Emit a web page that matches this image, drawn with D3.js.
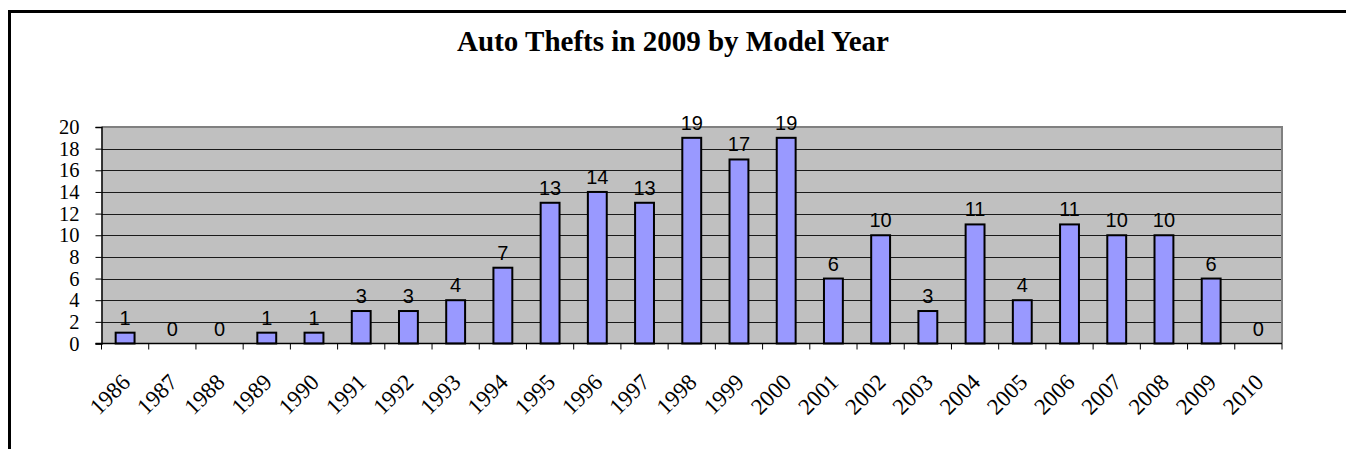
<!DOCTYPE html>
<html>
<head>
<meta charset="utf-8">
<script src="https://cdn.jsdelivr.net/npm/d3@7"></script>
<style>
  html, body { margin: 0; padding: 0; background: #fff; }
  svg { display: block; }
</style>
</head>
<body>
<svg id="chart" width="1346" height="449"></svg>
<script>
// Model years and the number of thefts recorded for each
const modelYears = ["1986","1987","1988","1989","1990","1991","1992","1993","1994","1995",
  "1996","1997","1998","1999","2000","2001","2002","2003","2004","2005",
  "2006","2007","2008","2009","2010"];
const thefts = [1,0,0,1,1,3,3,4,7,13,14,13,19,17,19,6,10,3,11,4,11,10,10,6,0];
const yTicks = [0,2,4,6,8,10,12,14,16,18,20];
const chartTitle = "Auto Thefts in 2009 by Model Year";

const svg = d3.select("#chart");
const W = 1346, H = 449;

// Outer chart frame (runs off the right and bottom edges)
svg.append("rect")
  .attr("x", 9.5).attr("y", 11.5)
  .attr("width", W + 20).attr("height", H + 20)
  .attr("fill", "#fff").attr("stroke", "#000").attr("stroke-width", 3);

const plot = { left: 101.5, right: 1282, top: 127, bottom: 343.5 };

const x = d3.scaleBand().domain(modelYears).range([plot.left, plot.right]).padding(0);
const y = d3.scaleLinear().domain([0, 20]).range([plot.bottom, plot.top]);

// Title
svg.append("text")
  .attr("x", 673).attr("y", 51)
  .attr("text-anchor", "middle")
  .attr("font-family", "'Liberation Serif', 'Times New Roman', serif")
  .attr("font-weight", "bold").attr("font-size", 29)
  .text(chartTitle);

// Plot background
svg.append("rect")
  .attr("x", plot.left).attr("y", plot.top)
  .attr("width", plot.right - plot.left).attr("height", plot.bottom - plot.top)
  .attr("fill", "#c0c0c0");

// Horizontal gridlines
svg.append("g").selectAll("line")
  .data(yTicks.filter(d => d > 0 && d < 20))
  .join("line")
  .attr("x1", plot.left).attr("x2", plot.right)
  .attr("y1", d => Math.round(y(d)) + 0.5).attr("y2", d => Math.round(y(d)) + 0.5)
  .attr("stroke", "#1a1a1a").attr("stroke-width", 1);

// Plot area top and right border
svg.append("path")
  .attr("d", `M${plot.left},${plot.top} H${plot.right} V${plot.bottom}`)
  .attr("fill", "none").attr("stroke", "#808080").attr("stroke-width", 2);

// Bars
const barW = x.bandwidth() * 0.4;
svg.append("g").selectAll("rect")
  .data(modelYears.map((yr, i) => ({ yr, v: thefts[i] })).filter(d => d.v > 0))
  .join("rect")
  .attr("x", d => x(d.yr) + (x.bandwidth() - barW) / 2)
  .attr("y", d => y(d.v))
  .attr("width", barW)
  .attr("height", d => y(0) - y(d.v))
  .attr("fill", "#9999ff").attr("stroke", "#000").attr("stroke-width", 2);

// Value labels
svg.append("g").selectAll("text")
  .data(modelYears.map((yr, i) => ({ yr, v: thefts[i] })))
  .join("text")
  .attr("x", d => x(d.yr) + x.bandwidth() / 2)
  .attr("y", d => y(d.v) - 8)
  .attr("text-anchor", "middle")
  .attr("font-family", "'Liberation Sans', Arial, sans-serif")
  .attr("font-size", 20)
  .attr("fill", "#000")
  .text(d => d.v);

// Y axis
const yAxis = d3.axisLeft(y).tickValues(yTicks).tickSize(6).tickPadding(16).tickFormat(d3.format("d"));
const gy = svg.append("g").attr("transform", `translate(${plot.left},0)`).call(yAxis);
gy.select(".domain").attr("stroke", "#000").attr("stroke-width", 1.5);
gy.selectAll(".tick line").attr("stroke", "#000");
gy.selectAll(".tick text")
  .attr("font-family", "'Liberation Serif', 'Times New Roman', serif")
  .attr("font-size", 20.5).attr("fill", "#000");

// X axis: ticks at category boundaries
const boundaries = modelYears.map(d => x(d)).concat([plot.right]);
svg.append("line")
  .attr("x1", plot.left - 6).attr("x2", plot.right)
  .attr("y1", plot.bottom).attr("y2", plot.bottom)
  .attr("stroke", "#000").attr("stroke-width", 1.5);
svg.append("g").selectAll("line")
  .data(boundaries)
  .join("line")
  .attr("x1", d => d).attr("x2", d => d)
  .attr("y1", plot.bottom).attr("y2", plot.bottom + 6)
  .attr("stroke", "#000");

// Rotated year labels
svg.append("g").selectAll("text")
  .data(modelYears)
  .join("text")
  .attr("transform", d => `translate(${x(d) + x.bandwidth() / 2 + 6.5},${plot.bottom + 40}) rotate(-45)`)
  .attr("text-anchor", "end")
  .attr("font-family", "'Liberation Serif', 'Times New Roman', serif")
  .attr("font-size", 23)
  .attr("fill", "#000")
  .text(d => d);
</script>
</body>
</html>
